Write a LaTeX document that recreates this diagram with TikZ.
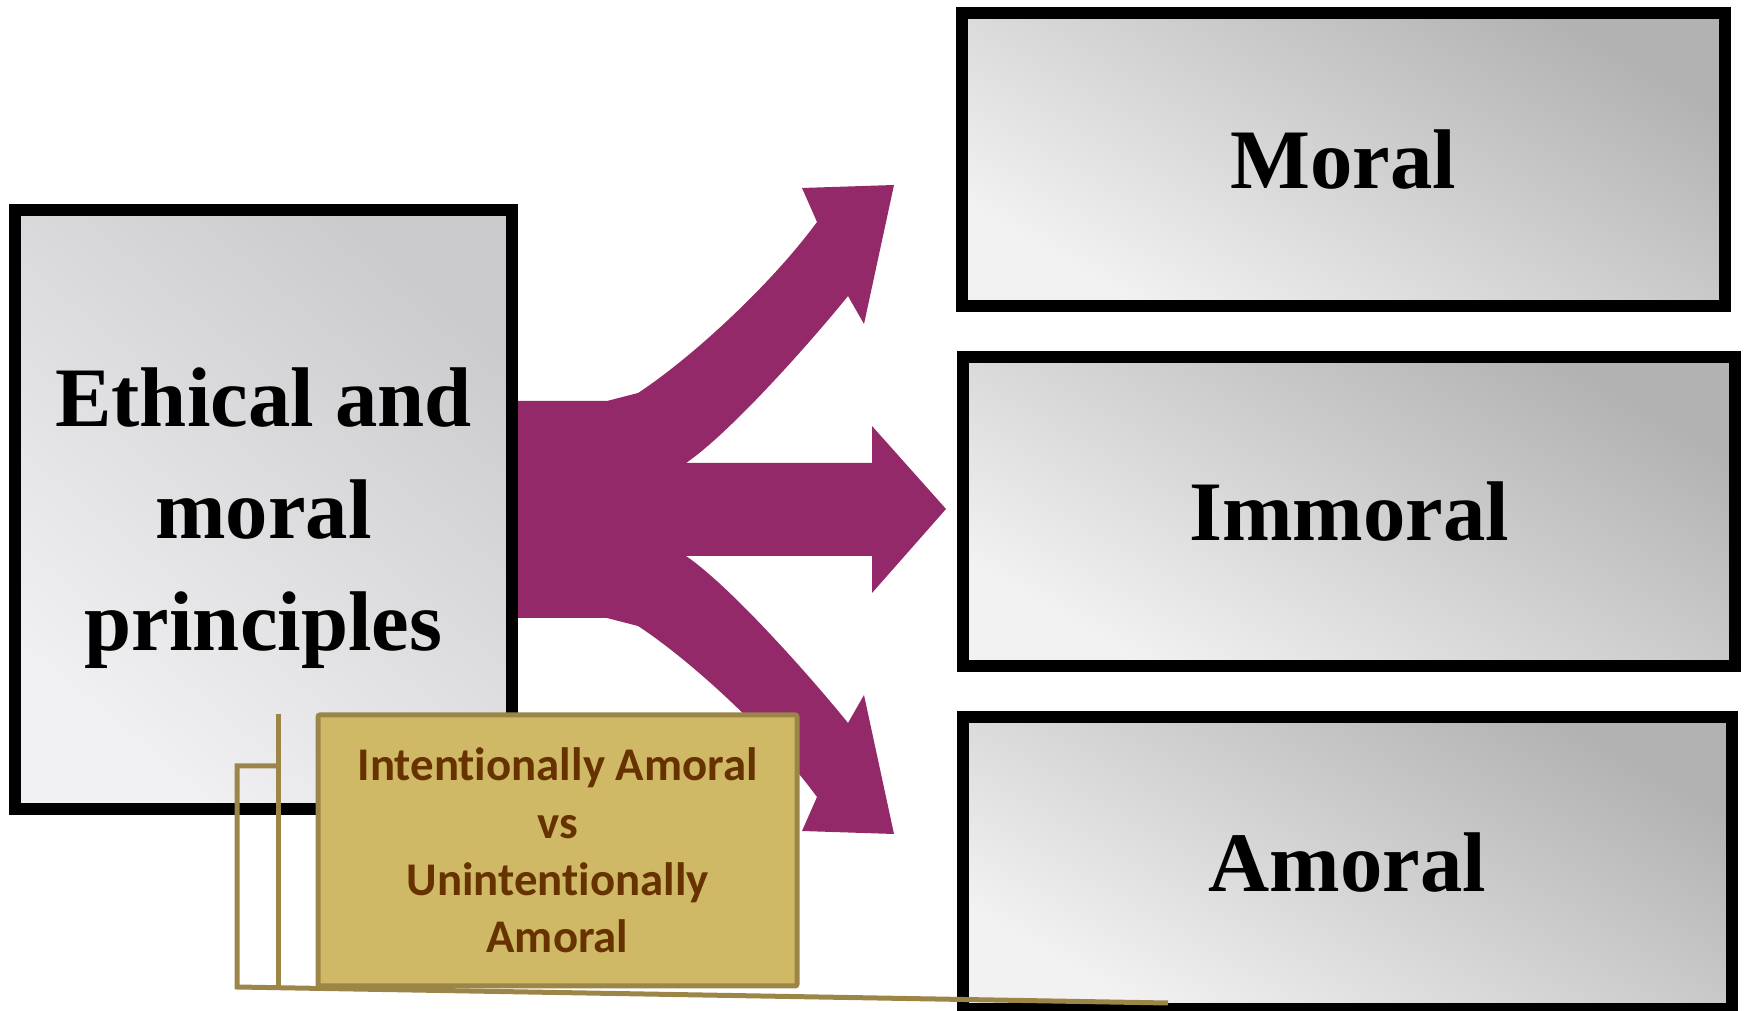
\documentclass[tikz,border=0pt]{standalone}
\usepackage{fontspec}
\setmainfont{Liberation Serif}
\newfontfamily\notefont[Ligatures=NoCommon]{Carlito}
\usepackage{tikz}

\definecolor{boxdark}{RGB}{178,178,178}
\definecolor{boxlight}{RGB}{242,242,242}
\definecolor{srcdark}{RGB}{203,203,206}
\definecolor{srclight}{RGB}{241,241,243}
\definecolor{branchcol}{RGB}{147,41,104}
\definecolor{notefill}{RGB}{207,185,102}
\definecolor{noteline}{RGB}{155,134,72}
\definecolor{notetext}{RGB}{102,51,0}

\begin{document}
\begin{tikzpicture}[
  outbox/.style={draw, line width=12bp, top color=boxdark, bottom color=boxlight, shading angle=-30,
    minimum width=770bp, font=\fontsize{85}{100}\selectfont\bfseries},
  srcbox/.style={draw, line width=12bp, top color=srcdark, bottom color=srclight, shading angle=-40},
  srctext/.style={align=center, font=\fontsize{85}{112.5}\selectfont\bfseries},
  notebox/.style={draw=noteline, line width=5bp, fill=notefill, rounded corners=2bp, align=center,
    text=notetext, font=\notefont\fontsize{47}{57.5}\selectfont\bfseries},
  leader/.style={draw=noteline, line width=5bp},
  branch/.style={fill=branchcol}]
%%
  \useasboundingbox (0bp,0bp) rectangle (1747bp,1011bp);
  % three-way arrow
  \fill [branch] (512bp,610bp) -- (607bp,610bp) -- (638bp,618bp)
    .. controls (690bp,652bp) and (770bp,725bp) .. (817bp,789bp)
    -- (802bp,823bp) -- (894bp,826bp) -- (864bp,687bp) -- (848bp,715bp)
    .. controls (810bp,668bp) and (730bp,578bp) .. (686bp,548bp)
    -- (872bp,548bp) -- (872bp,585bp) -- (946bp,502bp) -- (872bp,418bp) -- (872bp,455bp) -- (686bp,455bp)
    .. controls (730bp,425bp) and (810bp,335bp) .. (848bp,288bp)
    -- (864bp,316bp) -- (894bp,177bp) -- (802bp,180bp) -- (817bp,214bp)
    .. controls (770bp,278bp) and (690bp,351bp) .. (638bp,385bp)
    -- (607bp,393bp) -- (512bp,393bp) -- cycle;
  \node (ethics) at (263.5bp,501.5bp) [srcbox, minimum width=497bp, minimum height=599bp] {};
  \node (ethicstext) at (263.5bp,493bp) [srctext] {Ethical and\\moral\\principles};
  \node (moral) at (1343.5bp,851.5bp) [outbox, minimum width=763bp, minimum height=293bp] {Moral};
  \node (immoral) at (1349bp,499.5bp) [outbox, minimum width=772bp, minimum height=309bp] {Immoral};
  \node (amoral) at (1347.5bp,148bp) [outbox, minimum width=769bp, minimum height=292bp] {Amoral};
  % callout
  \coordinate (leadtop) at (278bp,297bp);
  \coordinate (leadfoot) at (278bp,25bp);
  \coordinate (elbowtop) at (278bp,245bp);
  \coordinate (elbowout) at (237bp,245bp);
  \coordinate (elbowbase) at (237bp,24bp);
  \coordinate (leadend) at (1168bp,8bp);
  \draw [leader] (leadtop) -- (leadfoot);
  \draw [leader] (elbowtop) -- (elbowout) -- (elbowbase) -- (leadend);
  \node (note) at (557.5bp,160.5bp) [notebox, minimum width=479bp, minimum height=271bp] {Intentionally Amoral\\vs\\Unintentionally\\Amoral};
%
\end{tikzpicture}
\end{document}
